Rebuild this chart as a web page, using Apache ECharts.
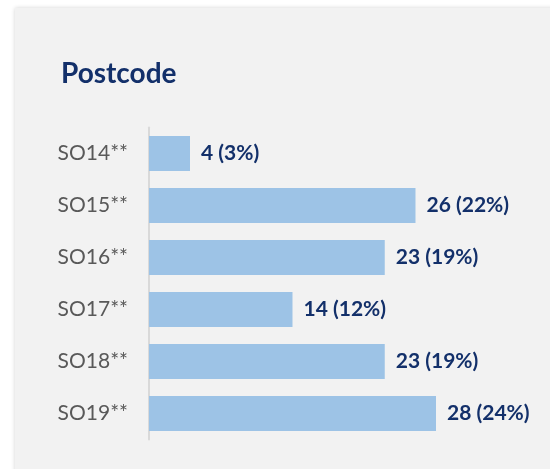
<!DOCTYPE html>
<html>
<head>
<meta charset="utf-8">
<script src="https://cdn.jsdelivr.net/npm/echarts@6/dist/echarts.min.js"></script>
<style>
  html, body { margin: 0; padding: 0; background: #ffffff; }
  #chart { width: 550px; height: 469px; }
</style>
</head>
<body>
<div id="chart"></div>
<script>
// Datos del gráfico
const postcodes = ['SO14**', 'SO15**', 'SO16**', 'SO17**', 'SO18**', 'SO19**'];
const counts = [4, 26, 23, 14, 23, 28];
const percents = [3, 22, 19, 12, 19, 24];

const chart = echarts.init(document.getElementById('chart'));

const option = {
    backgroundColor: '#ffffff',
    graphic: [
        {
            type: 'rect',
            shape: { x: 15, y: 8, width: 560, height: 480 },
            style: {
                fill: '#f2f2f2',
                shadowBlur: 4,
                shadowColor: 'rgba(0,0,0,0.18)',
                shadowOffsetX: 0,
                shadowOffsetY: 0
            },
            z: -10
        }
    ],
    title: {
        text: 'Postcode',
        left: 56,
        top: 55,
        textStyle: {
            fontFamily: 'Lato',
            fontSize: 28,
            fontWeight: 'bold',
            color: '#13306a'
        }
    },
    grid: {
        left: 149,
        top: 127.5,
        right: 93.5,
        bottom: 29.5
    },
    xAxis: {
        type: 'value',
        min: 0,
        max: 30,
        show: false,
        splitLine: { show: false }
    },
    yAxis: {
        type: 'category',
        data: postcodes,
        inverse: true,
        axisLine: { show: true, lineStyle: { color: '#d9d9d9', width: 2 } },
        axisTick: { show: false },
        axisLabel: {
            margin: 21,
            fontFamily: 'Lato',
            fontSize: 21,
            color: '#595959'
        }
    },
    series: [
        {
            type: 'bar',
            data: counts,
            barWidth: 35,
            itemStyle: { color: '#9dc3e6' },
            label: {
                show: true,
                position: 'right',
                distance: 11,
                fontFamily: 'Lato',
                fontSize: 21,
                fontWeight: 'bold',
                color: '#13306a',
                formatter: p => `${counts[p.dataIndex]} (${percents[p.dataIndex]}%)`
            }
        }
    ]
};

chart.setOption(option);
</script>
</body>
</html>
